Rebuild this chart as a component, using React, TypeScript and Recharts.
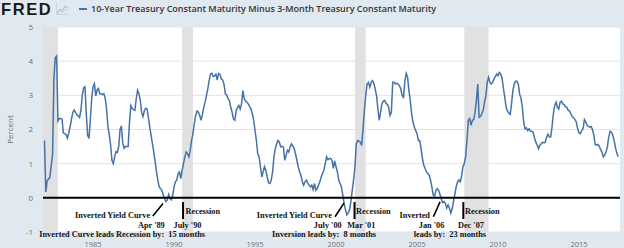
import React from 'react';
import {
  LineChart,
  Line,
  XAxis,
  YAxis,
  CartesianGrid,
  ReferenceArea,
  ReferenceLine,
  ReferenceDot,
} from 'recharts';

// 10-year minus 3-month constant maturity spread, monthly, starting Jan 1982
const START_YEAR = 1982;

const spread1980s = [
  1.68, 0.17, 0.5, 0.55, 0.6, 0.95, 1.25, 3.5, 4.1, 4.15, 2.25, 2.32,
  2.32, 2.3, 1.9, 1.88, 1.85, 1.75, 1.9, 2.08, 2.3, 2.5, 2.57, 2.5,
  2.43, 2.4, 2.35, 2.55, 3.0, 3.22, 3.25, 2.45, 1.83, 1.74, 2.3, 2.9,
  3.25, 3.34, 2.98, 3.15, 3.2, 3.05, 3.05, 3.02, 3.05, 2.92, 2.6, 2.1,
  1.85, 1.55, 1.1, 1.0, 1.2, 1.35, 1.33, 1.5, 2.0, 2.1, 1.6, 1.45,
  1.5, 1.5, 1.5, 2.2, 2.7, 2.62, 2.58, 2.56, 2.9, 3.15, 3.05, 2.85,
  2.5, 2.38, 2.55, 2.62, 2.6, 2.35, 2.07, 1.83, 1.58, 1.34, 1.05, 0.76,
  0.52, 0.32, 0.27, 0.22, 0.08, -0.02, -0.11, -0.06, 0.1, -0.02, -0.06, 0.08,
];

const spread1990s = [
  0.32, 0.47, 0.52, 0.71, 0.76, 0.56, 0.81, 1.0, 1.2, 1.34, 1.29, 1.2,
  1.39, 1.68, 1.88, 2.17, 2.41, 2.54, 2.51, 2.41, 2.27, 2.44, 2.65, 2.8,
  2.99, 3.19, 3.43, 3.62, 3.65, 3.55, 3.57, 3.62, 3.45, 3.64, 3.62, 3.48,
  3.45, 3.33, 3.04, 3.01, 2.9, 2.85, 2.65, 2.51, 2.31, 2.27, 2.54, 2.65,
  2.7, 2.6, 2.75, 3.14, 2.9, 2.83, 2.8, 2.75, 2.67, 2.6, 2.46, 2.27,
  1.97, 1.68, 1.29, 1.2, 0.91, 0.61, 0.76, 0.91, 0.81, 0.61, 0.44, 0.42,
  0.52, 0.76, 1.2, 1.44, 1.58, 1.68, 1.63, 1.49, 1.51, 1.49, 1.1, 1.25,
  1.39, 1.34, 1.49, 1.58, 1.51, 1.44, 1.29, 1.1, 0.91, 0.76, 0.66, 0.47,
  0.37, 0.47, 0.52, 0.44, 0.37, 0.32, 0.37, 0.24, 0.42, 0.22, 0.27, 0.37,
  0.47, 0.61, 0.71, 0.81, 1.0, 1.2, 1.12, 1.15, 1.15, 1.1, 0.86, 1.08,
];

const spread2000s = [
  0.91, 0.76, 0.52, 0.42, 0.32, 0.08, -0.16, -0.35, -0.5, -0.45, -0.35, -0.11,
  0.22, 0.52, 0.91, 1.58, 1.68, 1.66, 1.63, 1.53, 2.02, 2.56, 2.99, 3.33,
  3.38, 3.24, 3.38, 3.43, 3.35, 3.19, 2.99, 2.6, 2.27, 2.51, 2.75, 2.83,
  2.85, 2.77, 2.73, 2.65, 2.41, 2.51, 3.38, 3.38, 3.33, 3.35, 3.33, 3.28,
  3.19, 2.99, 2.94, 3.43, 3.64, 3.53, 3.14, 2.85, 2.46, 2.22, 2.07, 1.97,
  1.88, 1.68, 1.68, 1.44, 1.15, 0.95, 0.86, 0.76, 0.71, 0.66, 0.52, 0.32,
  0.08, 0.05, 0.22, 0.27, 0.22, 0.1, -0.04, -0.14, -0.11, -0.16, -0.3, -0.21,
  -0.3, -0.45, -0.33, -0.11, 0.1, 0.32, 0.47, 0.52, 0.47, 0.63, 0.91, 1.0,
  1.2, 1.68, 2.27, 2.32, 2.12, 2.27, 2.29, 2.51, 2.85, 3.33, 2.36, 2.38,
  2.46, 2.56, 2.8, 2.99, 3.38, 3.53, 3.38, 3.33, 3.38, 3.48, 3.55, 3.62,
];

const spread2010s = [
  3.57, 3.67, 3.62, 3.5, 3.2, 2.95, 2.65, 2.54, 2.48, 2.44, 2.75, 3.14,
  3.33, 3.41, 3.41, 3.33, 3.04, 2.92, 2.65, 2.22, 2.02, 2.05, 1.97, 2.02,
  1.95, 1.95, 1.92, 1.76, 1.63, 1.54, 1.44, 1.54, 1.58, 1.63, 1.61, 1.63,
  1.78, 1.86, 1.78, 1.78, 2.07, 2.46, 2.7, 2.8, 2.65, 2.6, 2.8, 2.83,
  2.75, 2.73, 2.67, 2.65, 2.56, 2.54, 2.46, 2.38, 2.34, 2.29, 2.22, 2.02,
  1.9, 1.88, 1.97, 2.02, 2.29, 2.22, 2.12, 2.09, 2.07, 2.09, 1.99, 1.83,
  1.56, 1.54, 1.56, 1.51, 1.41, 1.34, 1.2, 1.25, 1.34, 1.49, 1.78, 1.95,
  1.92, 1.83, 1.68, 1.47, 1.31, 1.2,
];

// NBER recessions (decimal years)
const recessionStarts = [1981.5, 1990.5, 2001.17, 2007.92];
const recessionEnds = [1982.83, 1991.17, 2001.83, 2009.42];

const yearTicks = [1985, 1990, 1995, 2000, 2005, 2010, 2015];
const percentTicks = [-1, 0, 1, 2, 3, 4, 5];

// annotation labels, placed in (year, percent)
const noteTexts = [
  { t: 1988.52, v: -0.598, text: 'Inverted Yield Curve', anchor: 'end' },
  { t: 1988.6, v: -0.869, text: "Apr '89", anchor: 'middle' },
  { t: 1990.83, v: -0.869, text: "July '90", anchor: 'middle' },
  { t: 1990.71, v: -0.475, text: 'Recession', anchor: 'start' },
  { t: 1991.91, v: -1.137, text: 'Inverted Curve leads Recession by:  15 months', anchor: 'end' },
  { t: 1999.74, v: -0.598, text: 'Inverted Yield Curve', anchor: 'end' },
  { t: 1999.49, v: -0.869, text: "July '00", anchor: 'middle' },
  { t: 2001.56, v: -0.869, text: "Mar '01", anchor: 'middle' },
  { t: 2001.24, v: -0.475, text: 'Recession', anchor: 'start' },
  { t: 2002.47, v: -1.137, text: 'Inversion leads by:  8 months', anchor: 'end' },
  { t: 2005.8, v: -0.598, text: 'Inverted', anchor: 'end' },
  { t: 2005.9, v: -0.869, text: "Jan '06", anchor: 'middle' },
  { t: 2008.33, v: -0.869, text: "Dec '07", anchor: 'middle' },
  { t: 2007.96, v: -0.475, text: 'Recession', anchor: 'start' },
  { t: 2009.26, v: -1.137, text: 'leads by:  23 months', anchor: 'end' },
];

// pointer strokes (inversion) and recession-start bars
const pointerLines = [
  [1988.69, -0.534, 1989.32, -0.163],
  [1999.94, -0.554, 2000.49, -0.155],
  [2006.01, -0.554, 2006.42, -0.117],
];
const startBars = [1990.556, 2001.142, 2007.858];

const rows = [...spread1980s, ...spread1990s, ...spread2000s, ...spread2010s].map((v, i) => ({
  t: START_YEAR + i / 12,
  spread: v,
}));

const LINE_BLUE = '#4572a7';
const BG = '#e1e9f0';

const noteFont = {
  fontFamily: '"Liberation Serif", "Times New Roman", serif',
  fontWeight: 700,
  fontSize: 8.3,
  whiteSpace: 'pre' as const,
};

const FredIcon = () => (
  <svg width={13} height={12} style={{ position: 'absolute', left: 56, top: 3 }}>
    <polyline points="1,10 4,6 6,8 9,3 12,5" fill="none" stroke="#9fb7d3" strokeWidth={1} />
    <polyline points="1,11 4,8 7,9 10,6 12,7" fill="none" stroke="#c7d5e6" strokeWidth={1} />
    <line x1={0.5} y1={0} x2={0.5} y2={12} stroke="#c7d5e6" />
    <line x1={0} y1={11.5} x2={13} y2={11.5} stroke="#c7d5e6" />
  </svg>
);

export default function App() {
  return (
    <div
      style={{
        position: 'absolute',
        left: 0,
        top: 0,
        width: 624,
        height: 248,
        background: BG,
        overflow: 'hidden',
      }}
    >
      <LineChart
        width={624}
        height={248}
        data={rows}
        margin={{ top: 27, right: 4, bottom: 0, left: 0 }}
        style={{ fontFamily: '"Open Sans", sans-serif' }}
      >
        <CartesianGrid vertical={false} stroke="#e4e4e4" fill="#ffffff" fillOpacity={1} />
        {recessionStarts.map((s, i) => (
          <ReferenceArea
            key={`rec-${i}`}
            x1={Math.max(s, 1981.91)}
            x2={recessionEnds[i]}
            y1={-1}
            y2={5}
            fill="#e1e1e1"
            fillOpacity={1}
            stroke="none"
            ifOverflow="hidden"
          />
        ))}
        <XAxis
          type="number"
          dataKey="t"
          domain={[1981.91, 2017.53]}
          ticks={yearTicks}
          allowDataOverflow
          axisLine={false}
          tickLine={false}
          tickSize={0}
          tickMargin={9.5}
          height={16}
          tick={{ fontSize: 7.5, fill: '#707070' }}
        />
        <YAxis
          type="number"
          domain={[-1, 5]}
          ticks={percentTicks}
          allowDataOverflow
          axisLine={false}
          tickLine={false}
          tickSize={0}
          tickMargin={10}
          width={43}
          tick={{ fontSize: 8, fill: '#707070' }}
          label={{
            value: 'Percent',
            angle: -90,
            position: 'insideLeft',
            offset: 10,
            style: { textAnchor: 'middle', fontSize: 8, fill: '#707070' },
          }}
        />
        <Line
          type="linear"
          dataKey="spread"
          stroke={LINE_BLUE}
          strokeWidth={1.5}
          dot={false}
          isAnimationActive={false}
        />
        <ReferenceLine y={0} stroke="#000" strokeWidth={2} ifOverflow="visible" />
        {pointerLines.map(([x1, y1, x2, y2], i) => (
          <ReferenceLine
            key={`ptr-${i}`}
            segment={[
              { x: x1, y: y1 },
              { x: x2, y: y2 },
            ]}
            stroke="#000"
            strokeWidth={1.6}
            ifOverflow="visible"
          />
        ))}
        {startBars.map((x, i) => (
          <ReferenceLine
            key={`bar-${i}`}
            segment={[
              { x, y: -0.125 },
              { x, y: -0.62 },
            ]}
            stroke="#000"
            strokeWidth={2}
            ifOverflow="visible"
          />
        ))}
        {noteTexts.map((n, i) => (
          <ReferenceDot
            key={`note-${i}`}
            x={n.t}
            y={n.v}
            r={0}
            ifOverflow="visible"
            shape={(p: any) => (
              <text x={p.cx} y={p.cy} textAnchor={n.anchor} fill="#111" style={noteFont}>
                {n.text}
              </text>
            )}
          />
        ))}
      </LineChart>

      <div
        style={{
          position: 'absolute',
          left: 1,
          top: 0,
          fontFamily: '"Liberation Sans", Arial, sans-serif',
          fontWeight: 900,
          fontSize: 16.5,
          letterSpacing: 1.6,
          lineHeight: '18px',
          color: '#1a1a1a',
        }}
      >
        FRED
      </div>
      <FredIcon />
      <div
        style={{
          position: 'absolute',
          left: 79,
          top: 8,
          width: 8,
          height: 2,
          background: LINE_BLUE,
        }}
      />
      <div
        style={{
          position: 'absolute',
          left: 91,
          top: 2,
          fontFamily: '"Open Sans", sans-serif',
          fontWeight: 600,
          fontSize: 9,
          lineHeight: '14px',
          color: '#333',
          whiteSpace: 'nowrap',
        }}
      >
        10-Year Treasury Constant Maturity Minus 3-Month Treasury Constant Maturity
      </div>
    </div>
  );
}
